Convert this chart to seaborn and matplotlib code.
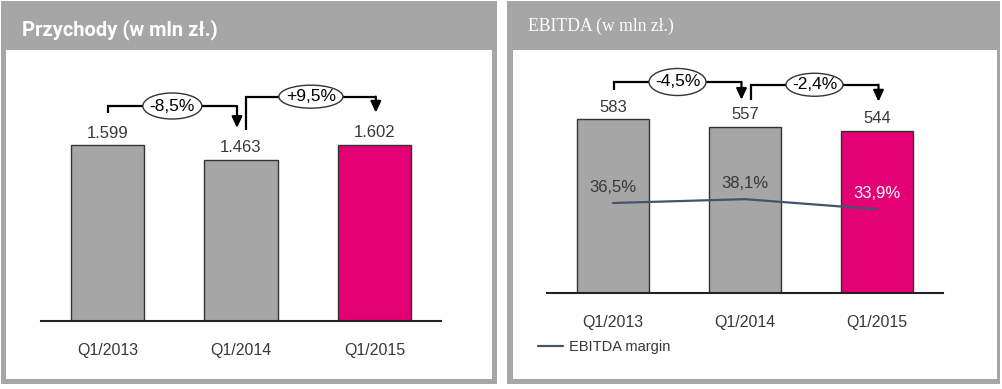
import matplotlib
matplotlib.use("Agg")
import matplotlib.pyplot as plt
from matplotlib.patches import Rectangle, Ellipse
import seaborn as sns
import pandas as pd

# ---------------- data ----------------
quarters = ["Q1/2013", "Q1/2014", "Q1/2015"]
revenue = [1599, 1463, 1602]
revenue_labels = ["1.599", "1.463", "1.602"]
revenue_changes = ["-8,5%", "+9,5%"]
ebitda = [583, 557, 544]
ebitda_labels = ["583", "557", "544"]
ebitda_changes = ["-4,5%", "-2,4%"]
margin = [36.5, 38.1, 33.9]
margin_labels = ["36,5%", "38,1%", "33,9%"]
title_left = "Przychody (w mln zł.)"
title_right = "EBITDA (w mln zł.)"
legend_label = "EBITDA margin"

# ---------------- style ----------------
W, H = 1002, 389
DPI = 100
GRAY = "#a6a6a6"
MAGENTA = "#e20074"
LINE = "#44546a"
TXT = "#383838"
bar_colors = [GRAY, GRAY, MAGENTA]

sns.set_theme(style="white")
plt.rcParams["font.family"] = ["Liberation Sans", "DejaVu Sans"]

fig = plt.figure(figsize=(W / DPI, H / DPI), dpi=DPI)
fig.patch.set_facecolor("white")


def rect_px(x0, y0, x1, y1, color, z=-10):
    fig.add_artist(Rectangle((x0 / W, 1 - y1 / H), (x1 - x0) / W, (y1 - y0) / H,
                             transform=fig.transFigure, facecolor=color,
                             edgecolor="none", zorder=z))


def axes_px(left, top, right, bottom):
    ax = fig.add_axes([left / W, 1 - bottom / H, (right - left) / W, (bottom - top) / H])
    ax.patch.set_alpha(0)
    return ax


# panel frames
rect_px(1, 1, 497, 384, GRAY)
rect_px(6, 50, 492, 379, "white", z=-9)
rect_px(507, 1, 1000, 384, GRAY)
rect_px(513, 50, 997, 379, "white", z=-9)

fig.text(22 / W, 1 - 30 / H, title_left, color="white", fontsize=14.5,
         fontweight="bold", family=["Roboto", "DejaVu Sans"], va="center", ha="left")
fig.text(528 / W, 1 - 26 / H, title_right, color="white", fontsize=12.7,
         family=["Liberation Serif", "DejaVu Serif"], va="center", ha="left")


def bar_panel(box, values, labels, changes, brackets, ellipses, tickpad):
    left, top, right, bottom = box
    wpx, hpx = right - left, bottom - top
    ax = axes_px(*box)
    df = pd.DataFrame({"q": quarters, "v": values})
    sns.barplot(data=df, x="q", y="v", hue="q", palette=bar_colors, legend=False,
                width=0.55, edgecolor="#333333", linewidth=1.0, ax=ax, saturation=1)
    ax.set_xlim(-0.5, 2.5)
    ymax = values[0] * hpx / brackets["first_px"]
    ax.set_ylim(0, ymax)
    sx = 3.0 / wpx
    sy = ymax / hpx
    for s in ["left", "right", "top"]:
        ax.spines[s].set_visible(False)
    ax.spines["bottom"].set_color("#222222")
    ax.spines["bottom"].set_linewidth(1.5)
    ax.set_yticks([])
    ax.set_xlabel("")
    ax.set_ylabel("")
    ax.tick_params(axis="x", length=0, pad=tickpad, labelsize=11.5, labelcolor=TXT)
    for i, (v, lab) in enumerate(zip(values, labels)):
        ax.text(i, v + 12 * sy, lab, ha="center", va="center", fontsize=12, color=TXT)
    for k, (i, j, dxi, dxj, gs, gh, ge) in enumerate(brackets["items"]):
        xs = i + dxi * sx
        xe = j + dxj * sx
        ys = values[i] + gs * sy
        yh = max(values[i], values[j]) + gh * sy
        ye = values[j] + ge * sy
        ax.plot([xs, xs, xe], [ys, yh, yh], color="black", lw=1.6,
                solid_capstyle="butt", solid_joinstyle="miter", zorder=4)
        ax.annotate("", xy=(xe, ye), xytext=(xe, yh),
                    arrowprops=dict(arrowstyle="-|>,head_length=0.6,head_width=0.28",
                                    color="black", lw=1.6, mutation_scale=11,
                                    shrinkA=0, shrinkB=0), zorder=4)
        ew, eh = ellipses[k]
        xm = (xs + xe) / 2
        ax.add_patch(Ellipse((xm, yh), ew * sx, eh * sy, facecolor="white",
                             edgecolor="#333333", lw=1.0, zorder=5))
        ax.text(xm, yh, changes[k], ha="center", va="center", fontsize=12.5,
                color="black", zorder=6)
    return ax, sx, sy


# left panel
axL, _, _ = bar_panel((41, 60, 441, 321), revenue, revenue_labels, revenue_changes,
                      {"first_px": 176,
                       "items": [(0, 1, 0, -4, 32, 39, 32),
                                 (1, 2, 5, 1.5, 30, 48, 32)]},
                      [(59, 26), (64, 23)], tickpad=15.5)

# right panel
axR, sxR, syR = bar_panel((547, 55, 943, 293), ebitda, ebitda_labels, ebitda_changes,
                          {"first_px": 174,
                           "items": [(0, 1, 0.5, -3.5, 29, 37, 27),
                                     (1, 2, 5.5, 1.5, 27, 42, 29)]},
                          [(57, 27), (57, 23)], tickpad=16)

ax2 = axR.twinx()
ax2.patch.set_alpha(0)
mdf = pd.DataFrame({"x": [0, 1, 2], "m": margin})
sns.lineplot(data=mdf, x="x", y="m", color=LINE, lw=1.6, ax=ax2, label=legend_label)
m_lo = -1.0
m_hi = m_lo + 238 / 2.4
ax2.set_ylim(m_lo, m_hi)
ax2.set_yticks([])
ax2.set_ylabel("")
for s in ax2.spines.values():
    s.set_visible(False)
msy = (m_hi - m_lo) / 238
for i, (m, lab) in enumerate(zip(margin, margin_labels)):
    ax2.text(i, m + 16 * msy, lab, ha="center", va="center", fontsize=12,
             color="white" if i == 2 else TXT)
ax2.legend(loc="center left", bbox_to_anchor=(538 / W, 1 - 347 / H),
           bbox_transform=fig.transFigure, frameon=False, borderpad=0,
           borderaxespad=0, handlelength=1.7, handletextpad=0.45,
           prop={"size": 10.5}, labelcolor=TXT)

fig.savefig("out.png", dpi=DPI)
